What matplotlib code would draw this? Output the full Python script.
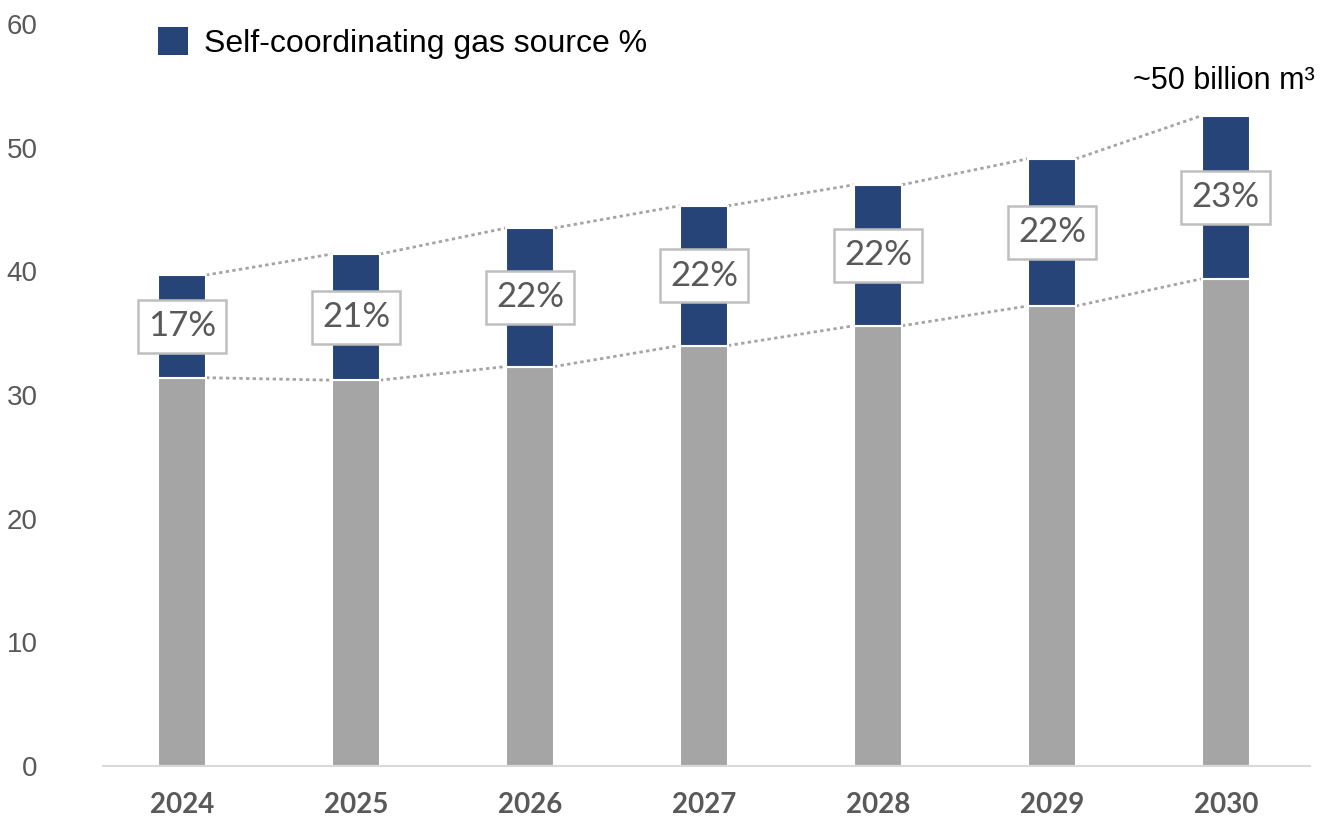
import numpy as np
import matplotlib
matplotlib.use("Agg")
import matplotlib.pyplot as plt
from matplotlib.patches import Patch

# Valeurs
years = ["2024", "2025", "2026", "2027", "2028", "2029", "2030"]
base_gas = [31.4, 31.2, 32.3, 34.0, 35.6, 37.2, 39.4]
self_gas = [8.3, 10.2, 11.2, 11.3, 11.4, 11.9, 13.2]
pct_labels = ["17%", "21%", "22%", "22%", "22%", "22%", "23%"]
y_ticks = [0, 10, 20, 30, 40, 50, 60]

NAVY = "#264478"
GREY = "#A5A5A5"
TXT = "#595959"

fig = plt.figure(figsize=(13.24, 8.19), dpi=100)
ax = fig.add_axes([0.0778, 0.0647, 0.9116, 0.906])

x = np.arange(len(years))
w = 0.276
base = np.array(base_gas)
top = base + np.array(self_gas)

ax.bar(x, base, width=w, color=GREY, edgecolor="white", linewidth=1.5, zorder=2)
ax.bar(x, self_gas, bottom=base, width=w, color=NAVY, edgecolor="white",
       linewidth=1.5, zorder=2)

# lignes pointillées entre les barres
for i in range(len(x) - 1):
    for serie in (base, top):
        ax.plot([x[i] + w / 2, x[i + 1] - w / 2], [serie[i], serie[i + 1]],
                color=GREY, linewidth=2, dashes=(1.2, 1.2), zorder=1)

# étiquettes en pourcentage
for xi, b, t, lab in zip(x, base, top, pct_labels):
    ax.text(xi, (b + t) / 2, lab, ha="center", va="center", fontsize=25,
            family="Lato", color=TXT, zorder=3,
            bbox=dict(boxstyle="square,pad=0.3", facecolor="white",
                      edgecolor="#BFBFBF", linewidth=1.8))

ax.text(x[-1] + 0.51, 55.4, "~50 billion m³", ha="right", va="center",
        fontsize=22, family="Liberation Sans", color="black")

ax.set_xlim(-0.454, 6.483)
ax.set_ylim(0, 60)
ax.set_yticks(y_ticks)
ax.set_xticks(x)
ax.set_xticklabels(years, fontsize=20, fontweight="bold", family="Lato", color=TXT)
for lab in ax.get_yticklabels():
    lab.set_fontsize(20)
    lab.set_family("Liberation Sans")
    lab.set_color(TXT)
ax.tick_params(axis="y", length=0, pad=47)
ax.tick_params(axis="x", length=0, pad=19)
for s in ("top", "right", "left"):
    ax.spines[s].set_visible(False)
ax.spines["bottom"].set_color("#D9D9D9")
ax.spines["bottom"].set_linewidth(1.5)

handle = Patch(facecolor=NAVY, edgecolor="none")
ax.legend([handle], ["Self-coordinating gas source %"], loc="upper left",
          bbox_to_anchor=(0.107, 0.987), bbox_transform=fig.transFigure,
          frameon=False, borderpad=0, handlelength=0.95, handleheight=1.0,
          handletextpad=0.5, prop={"family": "Liberation Sans", "size": 23})

fig.savefig("out.png", dpi=100)
